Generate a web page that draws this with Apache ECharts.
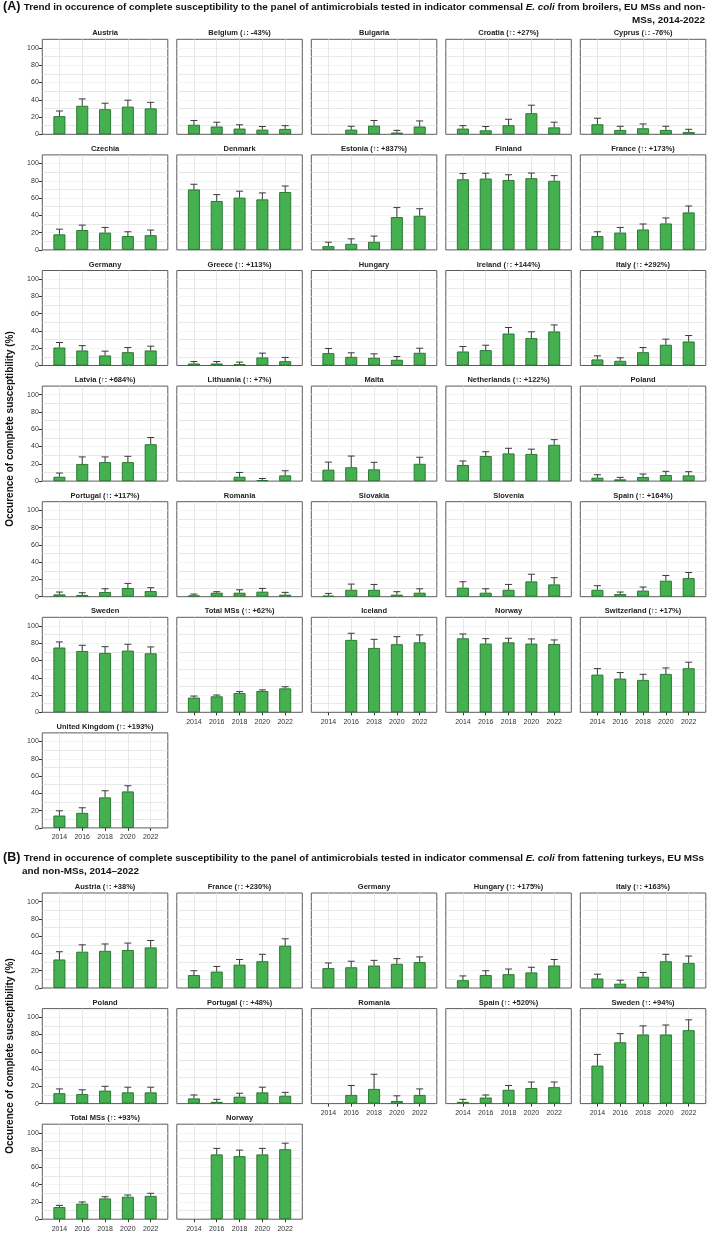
<!DOCTYPE html>
<html>
<head>
<meta charset="utf-8">
<script src="https://cdn.jsdelivr.net/npm/echarts@6/dist/echarts.min.js"></script>
<style>
html,body{margin:0;padding:0;background:#fff}
#chart{width:709px;height:1257px}
</style>
</head>
<body>
<div id="chart"></div>
<script>
// years and y ticks shared by every panel
const years = [2014, 2016, 2018, 2020, 2022];
const yTicks = [0, 20, 40, 60, 80, 100];

// (A) broilers
const broilerTitles = [
  'Austria', 'Belgium (↓: -43%)', 'Bulgaria', 'Croatia (↑: +27%)', 'Cyprus (↓: -76%)',
  'Czechia', 'Denmark', 'Estonia (↑: +837%)', 'Finland', 'France (↑: +173%)',
  'Germany', 'Greece (↑: +113%)', 'Hungary', 'Ireland (↑: +144%)', 'Italy (↑: +292%)',
  'Latvia (↑: +684%)', 'Lithuania (↑: +7%)', 'Malta', 'Netherlands (↑: +122%)', 'Poland',
  'Portugal (↑: +117%)', 'Romania', 'Slovakia', 'Slovenia', 'Spain (↑: +164%)',
  'Sweden', 'Total MSs (↑: +62%)', 'Iceland', 'Norway', 'Switzerland (↑: +17%)',
  'United Kingdom (↑: +193%)'
];
const broilerValues = [
  [21, 33, 29, 32, 30], [11, 9, 6.6, 5.4, 6.2], [null, 5.4, 10, 2, 9], [6.6, 4.6, 10.5, 24.4, 8], [11.6, 5, 7, 5, 2.7],
  [18, 23, 20, 16, 17], [70, 56.6, 60.5, 58.5, 67], [4.3, 7, 9.3, 38, 39.5], [81.8, 82.6, 81, 83, 80], [16, 20, 23.6, 30.6, 43.4],
  [20.8, 17.4, 11.6, 15.4, 17.4], [2.3, 2.3, 1.5, 9.3, 5], [14.3, 10, 8.9, 6.6, 14.7], [16.2, 17.8, 37, 31.7, 39.4], [7, 5.4, 15.4, 24, 27.8],
  [5, 19.8, 22, 22, 42.7], [null, null, 5, 1.2, 6.6], [13.2, 16, 13.6, null, 20], [18.6, 29, 32, 31.4, 42], [3.9, 2, 4.7, 7, 6.6],
  [2.7, 2, 5.4, 10, 6.5], [1.5, 4.6, 4.6, 5.8, 2.3], [1.2, 8, 8, 2.3, 4.6], [10.4, 4.6, 8, 17.7, 14.2], [8, 3, 7, 18.5, 21.5],
  [75, 71, 68.7, 71.4, 68.3], [17, 18.5, 22.3, 24.6, 27.7], [null, 83.8, 74.5, 78.8, 81], [85.7, 79.5, 81, 79.5, 79], [43.6, 39, 37.5, 44.4, 51],
  [14.3, 17.4, 35.3, 42.2, null]
];
const broilerUpper = [
  [27, 41, 36, 39.5, 37], [16, 14, 11, 9, 10], [null, 9.3, 16, 4.6, 15.5], [10, 9, 17.4, 33.7, 14], [18.6, 9.3, 12, 9.3, 5.8],
  [24, 28.7, 26, 21, 23], [76, 64, 68, 66, 74], [8.9, 12.8, 16, 49, 47.7], [88.4, 88.8, 87, 89, 86], [21, 26, 30, 37, 50.8],
  [26.6, 23, 16.6, 20.8, 22.4], [4.6, 4.6, 3.9, 14.3, 9.3], [19.7, 14.7, 13.5, 10.4, 20], [22, 23.5, 44, 39, 47], [11.2, 8.9, 20.8, 30.5, 34.7],
  [9.3, 28, 28, 28.7, 50.5], [null, null, 10, 3, 12], [22, 29, 21.7, null, 27.6], [23.3, 34, 38, 37, 48], [7.4, 4.3, 8.2, 11.3, 10.9],
  [5.4, 4.6, 9.2, 15.4, 10.4], [3, 5.8, 8, 9.6, 5], [3.8, 14.6, 14.2, 5.8, 9.2], [17.3, 9.2, 14.2, 26, 22], [12.7, 5.4, 11.2, 24.6, 28],
  [81.5, 77.6, 76, 78.8, 75.7], [18.8, 20, 24, 26, 29.6], [null, 91.5, 84.5, 87.6, 89.6], [90.7, 85.3, 85.7, 85, 83.8], [50.6, 46, 44, 51.4, 58],
  [19.8, 23.3, 43, 48.8, null]
];

// (B) fattening turkeys
const turkeyTitles = [
  'Austria (↑: +38%)', 'France (↑: +230%)', 'Germany', 'Hungary (↑: +175%)', 'Italy (↑: +163%)',
  'Poland', 'Portugal (↑: +48%)', 'Romania', 'Spain (↑: +520%)', 'Sweden (↑: +94%)',
  'Total MSs (↑: +93%)', 'Norway'
];
const turkeyValues = [
  [33, 42, 43, 44, 47], [15, 19, 27, 31, 49], [23, 24, 26, 28, 30], [9, 15, 16, 18, 26], [11, 5, 13, 31, 29],
  [12, 11, 15, 13, 13], [6, 2, 8, 13, 9], [null, 10, 17, 3, 10], [2, 7, 16, 18, 19], [44, 71, 80, 80, 85],
  [14, 18, 24, 26, 27], [null, 75, 73, 75, 81]
];
const turkeyUpper = [
  [42, 50, 51, 52, 55], [20, 25, 33, 39, 57], [29, 31, 32, 34, 36], [14, 20, 22, 24, 33], [16, 9, 18, 39, 37],
  [17, 16, 20, 19, 19], [10, 5, 12, 19, 13], [null, 21, 34, 9, 17], [5, 10, 21, 25, 25], [57, 81, 90, 91, 97],
  [16, 20, 26, 28, 30], [null, 82, 80, 82, 88]
];

const FONT = "'Liberation Sans', Arial, sans-serif";
const colLeft = 42.3, colStep = 134.5, panelW = 125.5, panelH = 95, rowStep = 115.6;

let grids = [], xAxes = [], yAxes = [], series = [], texts = [];

function addPanel(title, vals, ups, top, col, showX) {
  let g = grids.length;
  let left = colLeft + col * colStep;
  grids.push({
    left: left, top: top, width: panelW, height: panelH,
    show: true, borderColor: '#5c5c5c', borderWidth: 1, backgroundColor: '#fff'
  });
  xAxes.push({
    gridIndex: g, type: 'value', min: 2012.5, max: 2023.5,
    axisLine: {show: false},
    axisTick: {show: showX, customValues: years, length: 3, lineStyle: {color: '#333'}},
    axisLabel: {show: showX, customValues: years, fontSize: 7, color: '#333', margin: 6, fontFamily: FONT,
      formatter: v => String(v)},
    splitLine: {show: true, lineStyle: {color: '#e2e2e2', width: 0.8}}
  });
  // axis with labels
  yAxes.push({
    gridIndex: g, type: 'value', min: 0, max: 110,
    axisLine: {show: false},
    axisTick: {show: col === 0, customValues: yTicks, length: 3.5, lineStyle: {color: '#333'}},
    axisLabel: {show: col === 0, customValues: yTicks, fontSize: 7, color: '#333', margin: 3.5, fontFamily: FONT},
    splitLine: {show: false}
  });
  // axis that only draws the horizontal grid (major + minor)
  yAxes.push({
    gridIndex: g, type: 'value', min: 0, max: 110, interval: 10,
    axisLine: {show: false}, axisTick: {show: false}, axisLabel: {show: false},
    splitLine: {show: true, showMinLine: false, showMaxLine: false,
      lineStyle: {color: ['#e2e2e2', '#f0f0f0'], width: 0.8}}
  });
  let barData = years.map((y, k) => [y, vals[k]]);
  series.push({
    type: 'bar', xAxisIndex: g, yAxisIndex: 2 * g, barWidth: 12,
    data: barData, silent: true,
    itemStyle: {color: '#45b050', borderColor: '#22702b', borderWidth: 0.9}
  });
  let errData = [];
  years.forEach((y, k) => {
    if (vals[k] != null && ups[k] != null) errData.push([y, vals[k], ups[k]]);
  });
  series.push({
    type: 'custom', xAxisIndex: g, yAxisIndex: 2 * g, z: 5, silent: true,
    data: errData,
    encode: {x: 0, y: [1, 2]},
    renderItem: function (params, api) {
      let x = api.value(0);
      let p0 = api.coord([x, api.value(1)]);
      let p1 = api.coord([x, api.value(2)]);
      let st = {stroke: '#3a3a3a', lineWidth: 1};
      return {
        type: 'group',
        children: [
          {type: 'line', shape: {x1: p0[0], y1: p0[1], x2: p1[0], y2: p1[1]}, style: st},
          {type: 'line', shape: {x1: p1[0] - 3.5, y1: p1[1], x2: p1[0] + 3.5, y2: p1[1]}, style: st}
        ]
      };
    }
  });
  texts.push({
    type: 'text', x: left + panelW / 2, y: top - 6,
    style: {text: title, font: 'bold 7.5px ' + FONT, fill: '#222', align: 'center', verticalAlign: 'middle'}
  });
}

const topA = 39.3, topB = 893;
broilerTitles.forEach((t, i) => {
  let row = Math.floor(i / 5), col = i % 5;
  addPanel(t, broilerValues[i], broilerUpper[i], topA + row * rowStep, col, i + 5 >= broilerTitles.length);
});
turkeyTitles.forEach((t, i) => {
  let row = Math.floor(i / 5), col = i % 5;
  addPanel(t, turkeyValues[i], turkeyUpper[i], topB + row * rowStep, col, i + 5 >= turkeyTitles.length);
});

const titleRich = {
  a: {font: 'bold 12.5px ' + FONT, fill: '#111'},
  t: {font: 'bold 9.9px ' + FONT, fill: '#111'},
  i: {font: 'italic bold 9.9px ' + FONT, fill: '#111'}
};
texts.push({
  type: 'text', x: 3, y: 7,
  style: {text: '{a|(A)} {t|Trend in occurence of complete susceptibility to the panel of antimicrobials tested in indicator commensal }{i|E. coli}{t| from broilers, EU MSs and non-}',
    rich: titleRich, verticalAlign: 'middle'}
});
texts.push({
  type: 'text', x: 705, y: 20,
  style: {text: 'MSs, 2014-2022', font: 'bold 9.9px ' + FONT, fill: '#111', align: 'right', verticalAlign: 'middle'}
});
texts.push({
  type: 'text', x: 3, y: 858,
  style: {text: '{a|(B)} {t|Trend in occurence of complete susceptibility to the panel of antimicrobials tested in indicator commensal }{i|E. coli}{t| from fattening turkeys, EU MSs}',
    rich: titleRich, verticalAlign: 'middle'}
});
texts.push({
  type: 'text', x: 22, y: 871,
  style: {text: 'and non-MSs, 2014–2022', font: 'bold 9.9px ' + FONT, fill: '#111', verticalAlign: 'middle'}
});
// rotated y titles
[429, 1056].forEach(cy => {
  texts.push({
    type: 'text', x: 10, y: cy, rotation: Math.PI / 2,
    style: {text: 'Occurence of complete susceptibility (%)', font: 'bold 10px ' + FONT, fill: '#111',
      align: 'center', verticalAlign: 'middle'}
  });
});

let chart = echarts.init(document.getElementById('chart'), null, {renderer: 'canvas'});
chart.setOption({
  animation: false,
  backgroundColor: '#fff',
  grid: grids,
  xAxis: xAxes,
  yAxis: yAxes,
  series: series,
  graphic: texts
});
</script>
</body>
</html>
